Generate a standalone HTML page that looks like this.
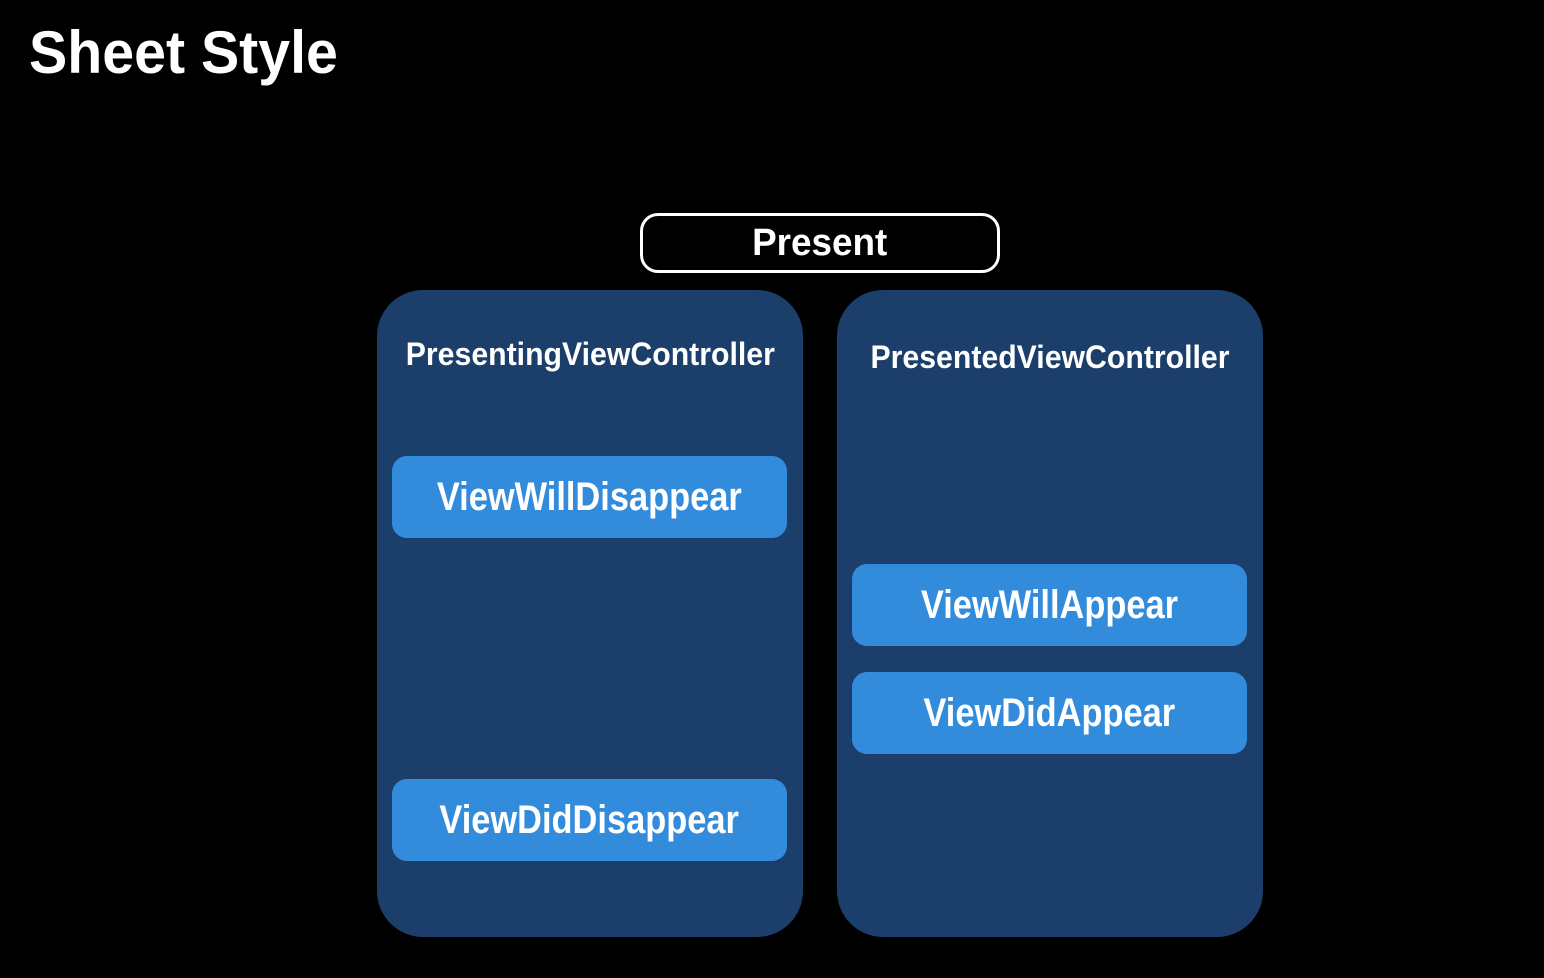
<!DOCTYPE html>
<html><head><style>
body{margin:0;width:1544px;height:978px;background:#000;position:relative;overflow:hidden;font-family:"Liberation Sans",sans-serif;font-weight:bold;color:#fff}
.a{position:absolute;display:flex;align-items:center;justify-content:center;box-sizing:border-box}
.a span{display:inline-block;white-space:nowrap}
.c{background:#1b3e6b;border-radius:46px}
.b{background:#338bdb;border-radius:15px;font-size:40px}
.b span{transform:scaleX(0.86)}
.h{font-size:32px}
.h span{transform:scaleX(0.945)}
</style></head><body>
<div style="position:absolute;left:29px;top:18px;font-size:60px;font-weight:bold;transform:scaleX(0.955);transform-origin:0 0;white-space:nowrap">Sheet Style</div>
<div class="a" style="left:640px;top:213px;width:360px;height:60px;border:3px solid #fff;border-radius:18px;font-size:38px"><span style="transform:scaleX(0.97)">Present</span></div>
<div class="a c" style="left:377px;top:290px;width:426px;height:647px"></div>
<div class="a c" style="left:837px;top:290px;width:426px;height:647px"></div>
<div class="a h" style="left:377px;top:332px;width:426px;height:44px"><span>PresentingViewController</span></div>
<div class="a h" style="left:837px;top:335px;width:426px;height:44px"><span>PresentedViewController</span></div>
<div class="a b" style="left:392px;top:456px;width:395px;height:82px"><span>ViewWillDisappear</span></div>
<div class="a b" style="left:392px;top:779px;width:395px;height:82px"><span>ViewDidDisappear</span></div>
<div class="a b" style="left:852px;top:564px;width:395px;height:82px"><span>ViewWillAppear</span></div>
<div class="a b" style="left:852px;top:672px;width:395px;height:82px"><span>ViewDidAppear</span></div>
</body></html>
